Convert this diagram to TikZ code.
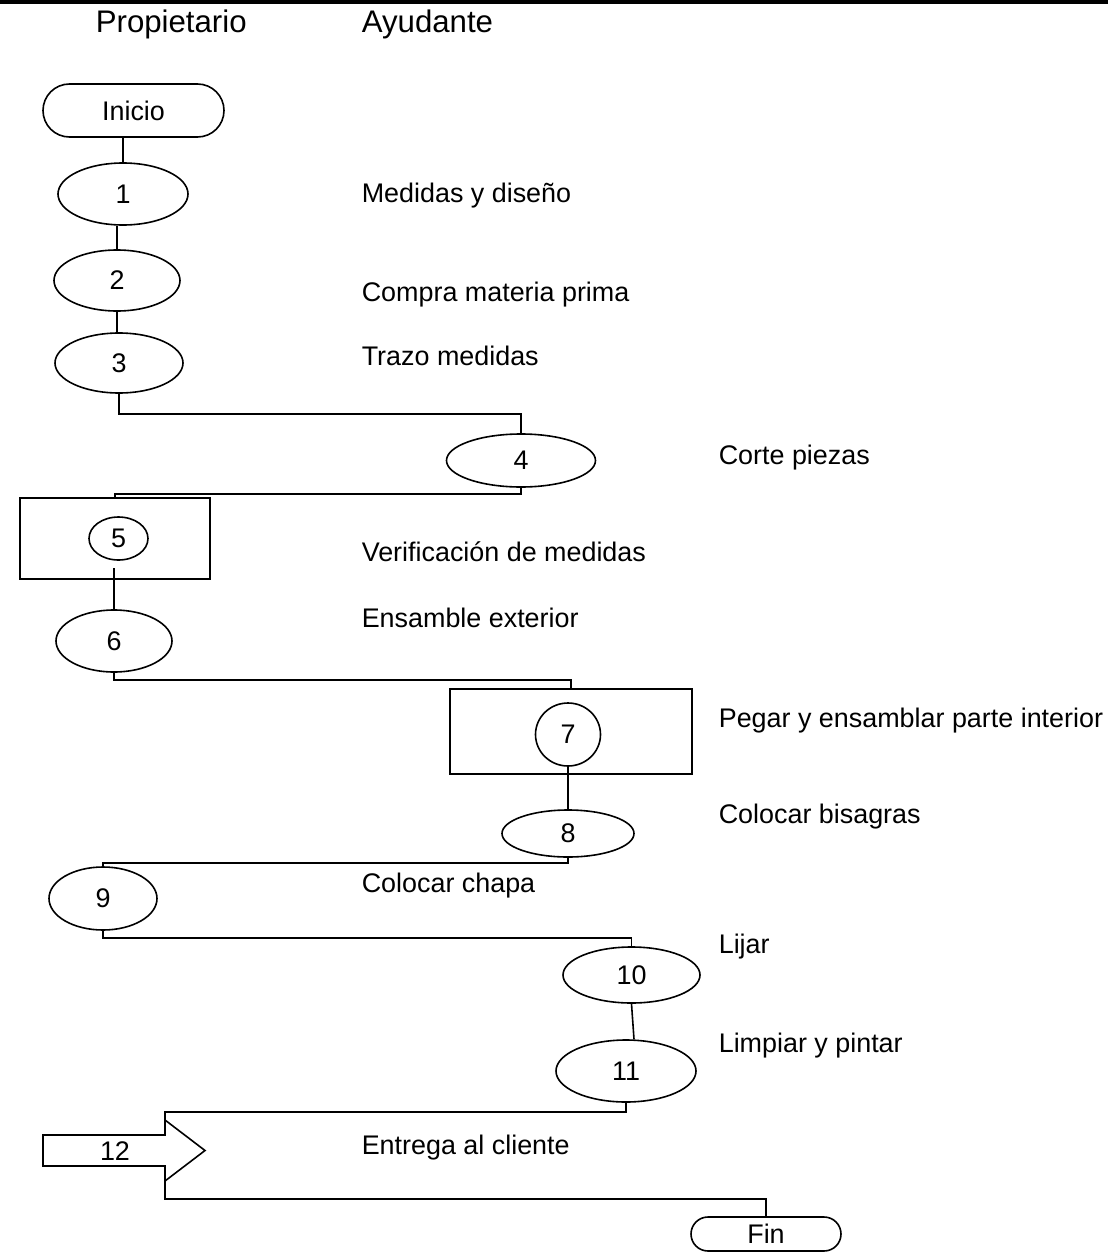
\documentclass[tikz,border=0pt]{standalone}
\usepackage{fontspec}
\setmainfont{Liberation Sans}
\usetikzlibrary{shapes.geometric, shapes.misc}

\begin{document}
\begin{tikzpicture}[x=0.5pt, y=-0.5pt, line width=0.8pt,
	font=\fontsize{13.45pt}{16pt}\selectfont,
	proc/.style={ellipse, draw, inner sep=0pt},
	term/.style={rounded rectangle, draw, inner sep=0pt},
	grp/.style={rectangle, draw, inner sep=0pt},
	lbl/.style={anchor=base west, inner sep=0pt},
	head/.style={lbl, font=\fontsize{15.6pt}{18pt}\selectfont}]
	\useasboundingbox (0,0) rectangle (1108,1252);
	\draw[line width=2pt] (0,2) -- (1108,2);
	
	\node[head] (hprop) at (95,33) {Propietario};
	\node[head] (hayud) at (361,33) {Ayudante};
	
	\node[term, minimum width=90.5pt, minimum height=26.5pt] (inicio) at (133.5,110.5) {Inicio};
	\node[proc, minimum width=65pt, minimum height=31pt] (p1) at (123,194) {1};
	\node[proc, minimum width=63pt, minimum height=30.5pt] (p2) at (117,280.5) {2};
	\node[proc, minimum width=64pt, minimum height=30pt] (p3) at (119,363) {3};
	\node[proc, minimum width=74.5pt, minimum height=26.5pt] (p4) at (521,460.5) {4};
	\node[grp, minimum width=95pt, minimum height=40.5pt] (g5) at (115,538.5) {};
	\node[proc, minimum width=29.5pt, minimum height=21.5pt] (p5) at (118.5,538.5) {5};
	\node[proc, minimum width=58pt, minimum height=31pt] (p6) at (114,641) {6};
	\node[grp, minimum width=121pt, minimum height=42.5pt] (g7) at (571,731.5) {};
	\node[proc, minimum width=32.5pt, minimum height=31.5pt] (p7) at (568,734.5) {7};
	\node[proc, minimum width=66pt, minimum height=23.5pt] (p8) at (568,833.5) {8};
	\node[proc, minimum width=54pt, minimum height=31.5pt] (p9) at (103,898.5) {9};
	\node[proc, minimum width=68.5pt, minimum height=28pt] (p10) at (631.5,975) {10};
	\node[proc, minimum width=70pt, minimum height=31pt] (p11) at (626,1071) {11};
	
	% flecha de entrega
	\coordinate (a12t) at (165,1120);
	\coordinate (a12b) at (165,1181);
	\draw (43,1135) -- (165,1135) -- (a12t) -- (205,1150.5) -- (a12b) -- (165,1166) -- (43,1166) -- cycle;
	\node[inner sep=0pt] (p12) at (115,1151) {12};
	\node[term, minimum width=75pt, minimum height=17pt] (fin) at (766,1234) {Fin};
	
	\node[lbl] (t1) at (361,202) {Medidas y diseño};
	\node[lbl] (t2) at (361,301) {Compra materia prima};
	\node[lbl] (t3) at (361,365) {Trazo medidas};
	\node[lbl] (t4) at (718,464) {Corte piezas};
	\node[lbl] (t5) at (361,561) {Verificación de medidas};
	\node[lbl] (t6) at (361,627) {Ensamble exterior};
	\node[lbl] (t7) at (718,727) {Pegar y ensamblar parte interior};
	\node[lbl] (t8) at (718,823) {Colocar bisagras};
	\node[lbl] (t9) at (361,892) {Colocar chapa};
	\node[lbl] (t10) at (718,953) {Lijar};
	\node[lbl] (t11) at (718,1052) {Limpiar y pintar};
	\node[lbl] (t12) at (361,1154) {Entrega al cliente};
	
	\draw (p1.north) -- (p1.north |- inicio.south);
	\draw (p2.north) -- (p2.north |- p1.south);
	\draw (p2.south) -- (p2.south |- p3.north);
	\draw (p3.south) -- ++(0,20) -| (p4.north);
	\draw (p4.south) -- ++(0,6) -| (g5.north);
	\draw (p6.north) -- ++(0,-41);
	\draw (p6.south) -- ++(0,7) -| (g7.north);
	\draw (p7.south) -- (p8.north);
	\draw (p8.south) -- ++(0,5) -| (p9.north);
	\draw (p9.south) -- ++(0,7) -| (p10.north);
	\draw (p10.south) -- ([xshift=4pt]p11.north);
	\draw (p11.south) -- ++(0,9) -| (a12t);
	\draw (a12b) -- ++(0,18) -| (fin.north);
\end{tikzpicture}
\end{document}
